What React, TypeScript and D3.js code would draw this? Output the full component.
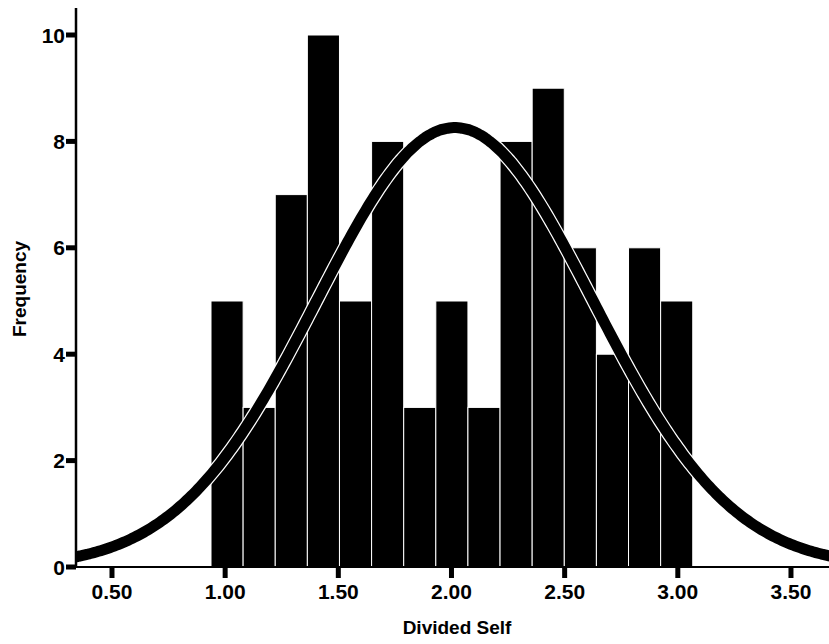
import { useEffect, useRef } from "react";
import * as d3 from "d3";

// histogram of "Divided Self" scores
const counts = [5, 3, 7, 10, 5, 8, 3, 5, 3, 8, 9, 6, 4, 6, 5];
const binStart = 0.9375;
const binWidth = 0.1419;
const xTicks = [0.5, 1.0, 1.5, 2.0, 2.5, 3.0, 3.5];
const yTicks = [0, 2, 4, 6, 8, 10];

// fitted normal curve
const curveMean = 2.015;
const curveSd = 0.61;
const curvePeak = 8.26;

const W = 829;
const H = 644;

const App = () => {
  const svgRef = useRef<SVGSVGElement>(null);

  useEffect(() => {
    const svg = d3.select(svgRef.current).attr("width", W).attr("height", H);
    svg.selectAll("*").remove();

    const left = 76;
    const bottom = 567;

    const x = d3.scaleLinear().domain([0.341, 3.668]).range([left, W]);
    const y = d3.scaleLinear().domain([0, 10]).range([bottom, 35]);

    const font = "'Liberation Sans', Arial, sans-serif";

    // bars
    svg
      .append("g")
      .selectAll("rect")
      .data(counts)
      .enter()
      .append("rect")
      .attr("x", (d, i) => x(binStart + i * binWidth))
      .attr("y", (d) => y(d))
      .attr("width", (d, i) => x(binStart + (i + 1) * binWidth) - x(binStart + i * binWidth))
      .attr("height", (d) => y(0) - y(d))
      .attr("fill", "#000")
      .attr("stroke", "#fff")
      .attr("stroke-width", 1);

    // normal curve, black band with white edges
    svg
      .append("clipPath")
      .attr("id", "plot-clip")
      .append("rect")
      .attr("x", left + 1)
      .attr("y", 0)
      .attr("width", W - left)
      .attr("height", bottom);

    const pts = d3.range(0.3, 3.75, 0.01).map((v) => [
      v,
      curvePeak * Math.exp(-((v - curveMean) ** 2) / (2 * curveSd * curveSd)),
    ]);
    const line = d3
      .line<number[]>()
      .x((d) => x(d[0]))
      .y((d) => y(d[1]))
      .curve(d3.curveBasis);

    const cg = svg.append("g").attr("clip-path", "url(#plot-clip)");
    cg.append("path")
      .attr("d", line(pts))
      .attr("fill", "none")
      .attr("stroke", "#fff")
      .attr("stroke-width", 13.5);
    cg.append("path")
      .attr("d", line(pts))
      .attr("fill", "none")
      .attr("stroke", "#000")
      .attr("stroke-width", 11);

    // axes
    svg
      .append("line")
      .attr("x1", left)
      .attr("x2", left)
      .attr("y1", 8)
      .attr("y2", bottom + 1)
      .attr("stroke", "#000")
      .attr("stroke-width", 2.5);
    svg
      .append("line")
      .attr("x1", left)
      .attr("x2", W)
      .attr("y1", bottom)
      .attr("y2", bottom)
      .attr("stroke", "#000")
      .attr("stroke-width", 2);

    // y ticks
    const yg = svg.append("g");
    yg.selectAll("rect")
      .data(yTicks)
      .enter()
      .append("rect")
      .attr("x", left - 10)
      .attr("y", (d) => y(d) - 2.5)
      .attr("width", 10)
      .attr("height", 5)
      .attr("fill", "#000");
    yg.selectAll("text")
      .data(yTicks)
      .enter()
      .append("text")
      .attr("x", left - 11)
      .attr("y", (d) => y(d))
      .attr("dy", "0.36em")
      .attr("text-anchor", "end")
      .attr("font-family", font)
      .attr("font-weight", "bold")
      .attr("font-size", 21)
      .text((d) => d);

    // x ticks
    const xg = svg.append("g");
    xg.selectAll("rect")
      .data(xTicks)
      .enter()
      .append("rect")
      .attr("x", (d) => x(d) - 2.5)
      .attr("y", bottom + 1)
      .attr("width", 5)
      .attr("height", 10)
      .attr("fill", "#000");
    xg.selectAll("text")
      .data(xTicks)
      .enter()
      .append("text")
      .attr("x", (d) => x(d))
      .attr("y", 599)
      .attr("text-anchor", "middle")
      .attr("font-family", font)
      .attr("font-weight", "bold")
      .attr("font-size", 21)
      .text((d) => d3.format(".2f")(d));

    // axis titles
    svg
      .append("text")
      .attr("x", 457)
      .attr("y", 634)
      .attr("text-anchor", "middle")
      .attr("font-family", font)
      .attr("font-weight", "bold")
      .attr("font-size", 19)
      .text("Divided Self");
    svg
      .append("text")
      .attr("transform", "translate(26,289) rotate(-90)")
      .attr("text-anchor", "middle")
      .attr("font-family", font)
      .attr("font-weight", "bold")
      .attr("font-size", 19)
      .text("Frequency");
  }, []);

  return (
    <svg
      ref={svgRef}
      style={{ position: "absolute", left: 0, top: 0, background: "#fff" }}
    ></svg>
  );
};

export default App;
